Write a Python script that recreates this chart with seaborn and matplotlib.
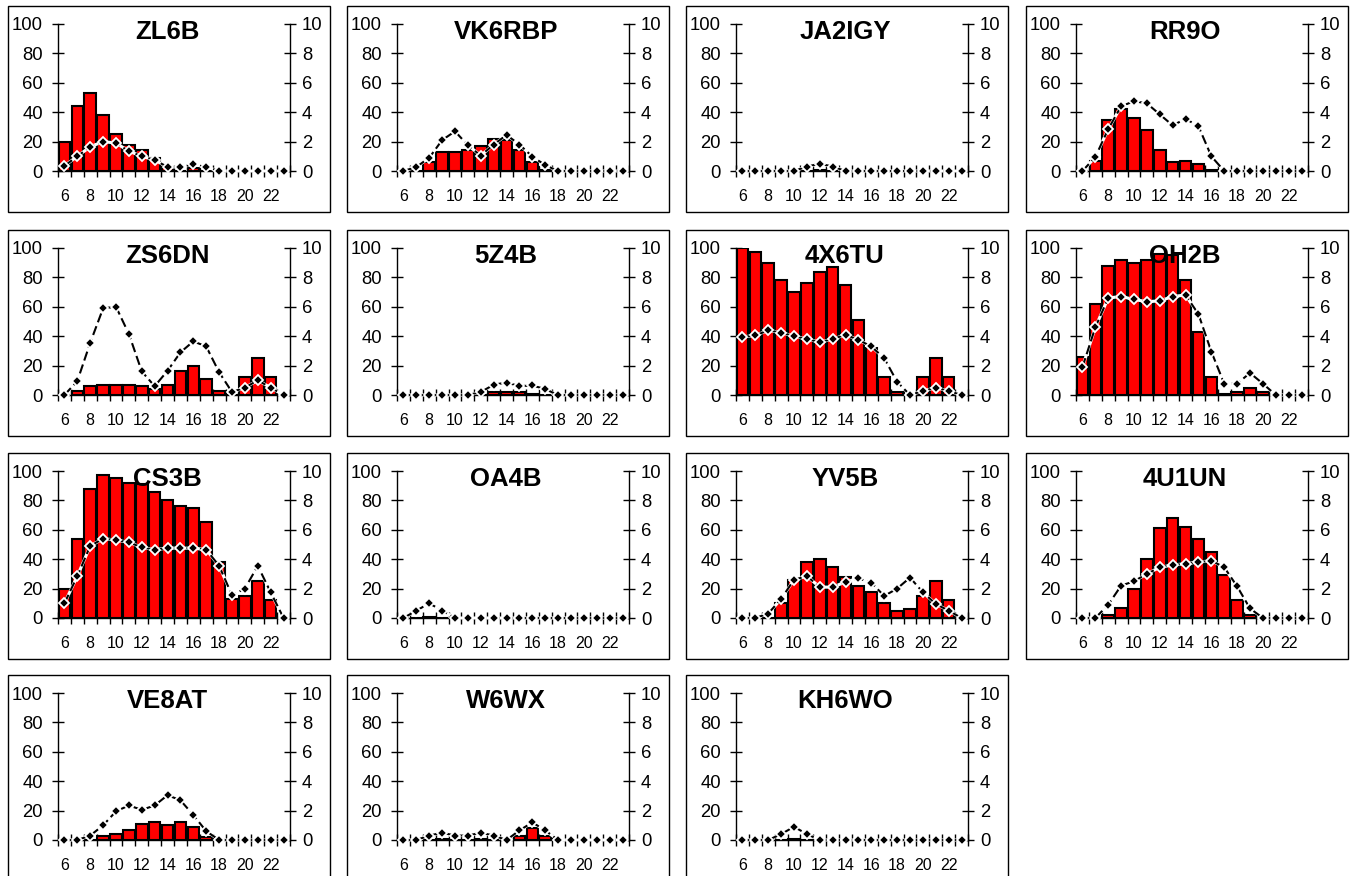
import matplotlib
matplotlib.use("Agg")
import matplotlib.pyplot as plt
from matplotlib import font_manager
from matplotlib.patches import Rectangle
from matplotlib.ticker import FixedLocator, NullFormatter
import seaborn as sns

# UTC hours covered by every panel
hours = list(range(6, 24))
hour_labels = [str(h) for h in range(6, 24, 2)]

# Per-beacon data: share of time heard (%, bars) and mean level (line, right axis)
zl6b_heard = [20, 44, 53, 38, 25, 18, 14, 9, 3, 0, 2, 0, 0, 0, 0, 0, 0, 0]
zl6b_level = [0.35, 1.0, 1.65, 2.0, 1.9, 1.35, 1.0, 0.75, 0.27, 0.27, 0.45, 0.27, 0, 0, 0, 0, 0, 0]

vk6rbp_heard = [0, 0, 6, 13, 13, 14, 17, 22, 21, 14, 6, 1, 0, 0, 0, 0, 0, 0]
vk6rbp_level = [0, 0.27, 0.9, 2.1, 2.7, 1.75, 1.05, 1.8, 2.45, 1.8, 0.98, 0.4, 0, 0, 0, 0, 0, 0]

ja2igy_heard = [0, 0, 0, 0, 0, 0, 1, 0, 0, 0, 0, 0, 0, 0, 0, 0, 0, 0]
ja2igy_level = [0, 0, 0, 0, 0, 0.3, 0.5, 0.3, 0, 0, 0, 0, 0, 0, 0, 0, 0, 0]

rr9o_heard = [0, 7, 35, 42, 36, 28, 14, 6, 7, 5, 1, 0, 0, 0, 0, 0, 0, 0]
rr9o_level = [0, 0.95, 2.85, 4.4, 4.75, 4.6, 3.85, 3.1, 3.55, 3.05, 1.0, 0, 0, 0, 0, 0, 0, 0]

zs6dn_heard = [0, 3, 6, 7, 7, 7, 6, 4, 7, 16, 20, 11, 3, 0, 12, 25, 12, 0]
zs6dn_level = [0, 0.95, 3.55, 5.9, 6.0, 4.15, 1.6, 0.6, 1.65, 2.9, 3.65, 3.3, 1.55, 0.2, 0.5, 1.0, 0.5, 0]

z5z4b_heard = [0, 0, 0, 0, 0, 0, 0, 2, 2, 2, 1, 0, 0, 0, 0, 0, 0, 0]
z5z4b_level = [0, 0, 0, 0, 0, 0, 0.2, 0.7, 0.85, 0.6, 0.65, 0.4, 0, 0, 0, 0, 0, 0]

x4x6tu_heard = [100, 97, 90, 78, 70, 76, 84, 87, 75, 51, 32, 12, 2, 0, 12, 25, 12, 0]
x4x6tu_level = [3.95, 4.05, 4.4, 4.25, 4.0, 3.8, 3.6, 3.8, 4.1, 3.75, 3.3, 2.5, 0.9, 0, 0.27, 0.5, 0.27, 0]

oh2b_heard = [26, 62, 88, 92, 90, 92, 96, 95, 78, 43, 12, 1, 2, 5, 2, 0, 0, 0]
oh2b_level = [1.9, 4.6, 6.6, 6.7, 6.5, 6.35, 6.4, 6.7, 6.8, 5.5, 2.95, 0.77, 0.77, 1.5, 0.77, 0, 0, 0]

cs3b_heard = [20, 54, 88, 97, 95, 92, 91, 86, 80, 76, 75, 65, 38, 13, 15, 25, 12, 0]
cs3b_level = [1.0, 2.85, 4.9, 5.4, 5.3, 5.15, 4.8, 4.65, 4.75, 4.75, 4.75, 4.65, 3.55, 1.55, 2.0, 3.55, 1.75, 0]

oa4b_heard = [0, 0, 1, 0, 0, 0, 0, 0, 0, 0, 0, 0, 0, 0, 0, 0, 0, 0]
oa4b_level = [0, 0.5, 1.0, 0.5, 0, 0, 0, 0, 0, 0, 0, 0, 0, 0, 0, 0, 0, 0]

yv5b_heard = [0, 0, 0, 10, 26, 38, 40, 35, 28, 22, 18, 10, 5, 6, 15, 25, 12, 0]
yv5b_level = [0, 0, 0.3, 1.3, 2.6, 2.85, 2.1, 2.1, 2.45, 2.7, 2.4, 1.5, 2.0, 2.75, 1.75, 0.95, 0.5, 0]

u4u1un_heard = [0, 0, 2, 7, 20, 40, 61, 68, 62, 54, 45, 29, 12, 2, 0, 0, 0, 0]
u4u1un_level = [0, 0, 0.9, 2.2, 2.5, 3.0, 3.45, 3.6, 3.7, 3.8, 3.9, 3.45, 2.15, 0.65, 0, 0, 0, 0]

ve8at_heard = [0, 0, 0, 2.5, 4, 7, 11, 12, 10, 12, 9, 2, 0, 0, 0, 0, 0, 0]
ve8at_level = [0, 0, 0.3, 1.0, 1.95, 2.35, 2.05, 2.35, 3.05, 2.7, 1.7, 0.6, 0, 0, 0, 0, 0, 0]

w6wx_heard = [0, 0, 0, 1, 0, 0, 1, 0, 0, 3, 8, 3, 0, 0, 0, 0, 0, 0]
w6wx_level = [0, 0, 0.3, 0.5, 0.3, 0.3, 0.5, 0.3, 0, 0.65, 1.2, 0.65, 0, 0, 0, 0, 0, 0]

kh6wo_heard = [0, 0, 0, 0, 1, 0, 0, 0, 0, 0, 0, 0, 0, 0, 0, 0, 0, 0]
kh6wo_level = [0, 0, 0, 0.4, 0.9, 0.4, 0, 0, 0, 0, 0, 0, 0, 0, 0, 0, 0, 0]

callsigns = ["ZL6B", "VK6RBP", "JA2IGY", "RR9O",
             "ZS6DN", "5Z4B", "4X6TU", "OH2B",
             "CS3B", "OA4B", "YV5B", "4U1UN",
             "VE8AT", "W6WX", "KH6WO"]
heard_series = [zl6b_heard, vk6rbp_heard, ja2igy_heard, rr9o_heard,
                zs6dn_heard, z5z4b_heard, x4x6tu_heard, oh2b_heard,
                cs3b_heard, oa4b_heard, yv5b_heard, u4u1un_heard,
                ve8at_heard, w6wx_heard, kh6wo_heard]
level_series = [zl6b_level, vk6rbp_level, ja2igy_level, rr9o_level,
                zs6dn_level, z5z4b_level, x4x6tu_level, oh2b_level,
                cs3b_level, oa4b_level, yv5b_level, u4u1un_level,
                ve8at_level, w6wx_level, kh6wo_level]

sns.set_theme(style="white")
plt.rcParams["font.family"] = ["Liberation Sans", "DejaVu Sans"]


def has_font(name):
    try:
        font_manager.findfont(name, fallback_to_default=False)
        return True
    except Exception:
        return False


narrow = "Liberation Sans Narrow" if has_font("Liberation Sans Narrow") else "Liberation Sans"
xlab_size = 12.5 if narrow != "Liberation Sans" else 11.5

W, H = 1351, 876
fig = plt.figure(figsize=(W / 100, H / 100), dpi=100)
fig.patch.set_facecolor("white")

box_lefts = [8, 347, 686, 1026]
row_tops = [6, 230, 453, 675]
box_w, box_h = 322, 206


def fx(px):
    return px / W


def fy(py):
    return 1 - py / H


for i, (name, heard, level) in enumerate(zip(callsigns, heard_series, level_series)):
    r, c = divmod(i, 4)
    bl, rt = box_lefts[c], row_tops[r]

    # outer frame around each panel
    fig.patches.append(Rectangle((fx(bl), fy(rt + box_h)), box_w / W, box_h / H,
                                 transform=fig.transFigure, fill=False,
                                 edgecolor="black", linewidth=1.0, zorder=0))

    ax_left, ax_right = bl + 50, bl + 282
    y_top, y_bot = rt + 18, rt + 165
    ax = fig.add_axes([fx(ax_left), fy(y_bot), (ax_right - ax_left) / W, (y_bot - y_top) / H])
    ax.set_facecolor("none")

    sns.barplot(x=hours, y=heard, native_scale=True, width=0.9, color="#ff0000",
                saturation=1, edgecolor="black", linewidth=1.5, errorbar=None, ax=ax)

    ax.set_xlim(5.5, 23.5)
    ax.set_ylim(0, 100)
    ax.set_yticks(range(0, 101, 20))
    ax.xaxis.set_major_locator(FixedLocator(list(range(6, 24, 2))))
    ax.set_xticklabels(hour_labels)
    ax.xaxis.set_minor_locator(FixedLocator([h + 0.5 for h in range(5, 24)]))
    ax.xaxis.set_minor_formatter(NullFormatter())
    ax.set_xlabel("")
    ax.set_ylabel("")
    for s in ("top", "right"):
        ax.spines[s].set_visible(False)
    for s in ("left", "bottom"):
        ax.spines[s].set_color("black")
        ax.spines[s].set_linewidth(1.0)
    ax.tick_params(axis="y", direction="inout", length=8.5, width=1, pad=6.5,
                   labelsize=13.3, colors="black", left=True)
    ax.tick_params(axis="x", which="major", length=0, pad=13, bottom=True)
    ax.tick_params(axis="x", which="minor", direction="inout", length=8, width=1,
                   color="black", bottom=True)
    for t in ax.get_xticklabels():
        t.set_fontfamily(narrow)
        t.set_fontsize(xlab_size)
        t.set_color("black")

    ax2 = ax.twinx()
    ax2.set_ylim(0, 10)
    ax2.set_yticks(range(0, 11, 2))
    for s in ("top", "left", "bottom"):
        ax2.spines[s].set_visible(False)
    ax2.spines["right"].set_color("black")
    ax2.spines["right"].set_linewidth(1.0)
    ax2.tick_params(axis="y", direction="inout", length=8.5, width=1, pad=4.4,
                    labelsize=13.3, colors="black", right=True)

    # white underlay so the dashed line reads over the bars
    sns.lineplot(x=hours, y=level, ax=ax2, color="white", linewidth=2.2,
                 estimator=None, legend=False, clip_on=False)
    sns.lineplot(x=hours, y=level, ax=ax2, color="black", linewidth=1.5,
                 linestyle=(0, (4.5, 2)), marker="D", markersize=5.6,
                 markerfacecolor="black", markeredgecolor="white",
                 markeredgewidth=1.3, estimator=None, legend=False, clip_on=False)
    ax2.set_xlim(5.5, 23.5)
    ax2.set_ylabel("")

    fig.text(fx(bl + box_w / 2 - 2), fy(rt + 33), name, ha="center", va="baseline",
             fontsize=18.5, fontweight="bold", color="black", zorder=10)

fig.savefig("out.png", dpi=100, facecolor="white")
